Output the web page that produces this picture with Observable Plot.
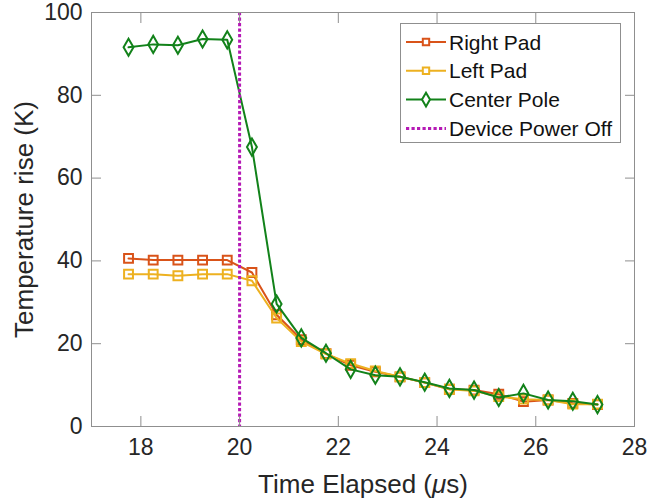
<!DOCTYPE html>
<html><head><meta charset="utf-8">
<script src="https://cdn.jsdelivr.net/npm/d3@7"></script>
<script src="https://cdn.jsdelivr.net/npm/@observablehq/plot@0.6"></script>
<style>
body{margin:0;background:#fff;}
#wrap{position:relative;width:648px;height:502px;font-family:"Liberation Sans",Arial,sans-serif;}
#legend{position:absolute;left:400px;top:23px;}
</style></head><body><div id="wrap"></div>
<script>
const time = [17.75, 18.25, 18.75, 19.25, 19.75, 20.25, 20.75, 21.25, 21.75, 22.25, 22.75, 23.25, 23.75, 24.25, 24.75, 25.25, 25.75, 26.25, 26.75, 27.25];
const rightPad   = [40.6, 40.2, 40.2, 40.2, 40.2, 37.2, 27.0, 21.0, 17.6, 14.8, 13.2, 12.0, 10.6, 9.0, 8.8, 7.8, 6.0, 6.4, 5.6, 5.3];
const leftPad    = [36.8, 36.8, 36.4, 36.8, 36.8, 35.2, 26.2, 20.5, 17.5, 15.2, 13.4, 12.0, 10.6, 9.0, 8.6, 7.2, 6.6, 6.4, 5.4, 5.4];
const centerPole = [91.6, 92.3, 92.1, 93.6, 93.4, 67.5, 29.6, 21.4, 17.7, 13.8, 12.4, 12.0, 10.7, 9.2, 8.8, 7.0, 8.0, 6.4, 6.1, 5.3];
const powerOffTime = [20];
const seriesNames = ["Right Pad", "Left Pad", "Center Pole", "Device Power Off"];
const seriesColors = ["#D95319", "#EDB120", "#12821A", "#B51AB5"];
const seriesSymbols = ["square", "square", "diamond"];
const xTicks = [18, 20, 22, 24, 26, 28];
const yTicks = [0, 20, 40, 60, 80, 100];
const xLabel = "Time Elapsed (μs)";
const yLabel = "Temperature rise (K)";

const seriesValues = [rightPad, leftPad, centerPole];
const tables = seriesValues.map((vals, k) => time.map((t, i) => ({t, v: vals[i], s: seriesNames[k]})));

const axisGray = "#8f8f8f";
const textGray = "#262626";
const symR = [5.0, 5.0, 5.2];

const marks = [];
tables.forEach((rows, k) => {
  marks.push(Plot.line(rows, {x: "t", y: "v", stroke: "s", strokeWidth: 2}));
  marks.push(Plot.dot(rows, {x: "t", y: "v", stroke: "s", symbol: () => seriesSymbols[k], r: symR[k], strokeWidth: 2, fill: "none"}));
});

const chart = Plot.plot({
  width: 648, height: 502,
  marginLeft: 91, marginRight: 14, marginTop: 12, marginBottom: 76,
  style: {fontFamily: '"Liberation Sans", Arial, sans-serif', background: "white"},
  x: {domain: [17, 28]},
  y: {domain: [0, 100]},
  color: {domain: seriesNames, range: seriesColors},
  symbol: {domain: ["square", "diamond"], range: ["square", "diamond"]},
  marks: [
    ...marks,
    Plot.ruleX(powerOffTime, {stroke: seriesColors[3], strokeWidth: 3, strokeDasharray: "3.2,2.3"}),
    Plot.frame({stroke: axisGray}),
    Plot.axisX(xTicks, {anchor: "bottom", tickSize: -10, tickPadding: 22, fontSize: 23, color: axisGray, fill: textGray, label: null}),
    Plot.axisX(xTicks, {anchor: "top", tickSize: -10, tickFormat: () => "", color: axisGray, label: null}),
    Plot.axisY(yTicks, {anchor: "left", tickSize: -10, tickPadding: 19, fontSize: 23, color: axisGray, fill: textGray, label: null}),
    Plot.axisY(yTicks, {anchor: "right", tickSize: -10, tickFormat: () => "", color: axisGray, label: null}),
    Plot.text([xLabel], {frameAnchor: "bottom", textAnchor: "middle", lineAnchor: "middle", dy: 58, fontSize: 26, fill: textGray}),
    Plot.text([yLabel], {frameAnchor: "left", textAnchor: "middle", lineAnchor: "middle", dx: -67, rotate: -90, fontSize: 26, fill: textGray})
  ]
});

// italic mu
d3.select(chart).selectAll("text").each(function() {
  const t = this.textContent;
  if (t.includes("μ")) {
    const parts = t.split("μ");
    const sel = d3.select(this);
    sel.text(null);
    sel.append("tspan").text(parts[0]);
    sel.append("tspan").attr("font-style", "italic").text("μ");
    sel.append("tspan").text(parts[1]);
  }
});

const wrap = document.getElementById("wrap");
wrap.appendChild(chart);

// legend
const lw = 221, lh = 120, rowH = 28.8, row0 = 19;
const leg = d3.select(wrap).append("svg").attr("id", "legend").attr("width", lw).attr("height", lh)
  .style("font-family", '"Liberation Sans", Arial, sans-serif');
leg.append("rect").attr("x", 0.5).attr("y", 0.5).attr("width", lw - 1).attr("height", lh - 1)
  .attr("fill", "white").attr("stroke", axisGray);
seriesNames.forEach((name, k) => {
  const cy = row0 + k * rowH;
  const g = leg.append("g").attr("transform", `translate(0,${cy})`);
  const dotted = k === 3;
  g.append("line").attr("x1", 6).attr("x2", 46).attr("y1", 0).attr("y2", 0)
    .attr("stroke", seriesColors[k]).attr("stroke-width", dotted ? 3 : 2)
    .attr("stroke-dasharray", dotted ? "3.2,2.3" : null);
  if (!dotted) {
    const sym = seriesSymbols[k] === "square" ? d3.symbolSquare : d3.symbolDiamond;
    const r = k === 2 ? 4.2 : 3.6;
    g.append("path").attr("transform", "translate(26,0)")
      .attr("d", d3.symbol(sym, Math.PI * r * r)())
      .attr("fill", "white").attr("stroke", seriesColors[k]).attr("stroke-width", 2);
  }
  g.append("text").attr("x", 49).attr("y", 0).attr("dy", "0.36em")
    .attr("font-size", 21).attr("fill", "#111").text(name);
});
</script>
</body></html>
